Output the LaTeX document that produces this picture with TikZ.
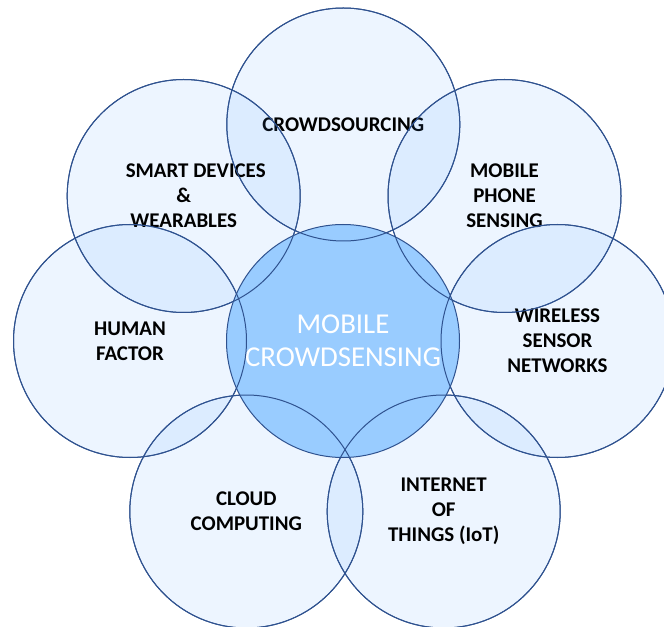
\documentclass[tikz,border=0pt]{standalone}
\usepackage{fontspec}
\setmainfont{Carlito}
\definecolor{ringblue}{HTML}{2F528F}
\definecolor{petalblue}{HTML}{4A9BFF}
\definecolor{hubblue}{HTML}{99CCFF}

\begin{document}
\begin{tikzpicture}[x=0.75pt,y=-0.75pt,inner sep=0pt,outer sep=0pt,
petal/.style={circle,minimum size=174.75pt,fill=petalblue,fill opacity=0.1,text opacity=1,draw=ringblue,line width=0.75pt,align=center,font=\bfseries\fontsize{15.7}{18.9}\selectfont},
hub/.style={circle,minimum size=174.75pt,fill=hubblue,draw=ringblue,line width=0.75pt,align=center,text=white,font=\fontsize{21.6}{25}\selectfont}]
\useasboundingbox (0,0) rectangle (664,627);
% outer circles
\node[petal] (crowd) at (343.3,124.5) {CROWDSOURCING};
\node[petal] (phone) at (504.5,196) {MOBILE\\PHONE\\SENSING};
\node[petal] (wsn) at (557.5,341) {WIRELESS\\SENSOR\\NETWORKS};
\node[petal] (iot) at (443.7,511.5) {INTERNET\\OF\\THINGS (IoT)};
\node[petal] (cloud) at (246.3,511.5) {CLOUD\\COMPUTING};
\node[petal] (human) at (130,341) {HUMAN\\FACTOR};
\node[petal] (smart) at (183.7,196) {\hspace*{18pt}SMART DEVICES\\\&\\WEARABLES};
% centre circle
\node[hub] (mcs) at (343,341) {MOBILE\\CROWDSENSING};
% outer rims again, over the centre
\foreach \n in {crowd,phone,wsn,iot,cloud,human,smart}
  \draw[ringblue,line width=0.75pt] (\n.center) circle[radius=87.375pt];
\end{tikzpicture}
\end{document}
